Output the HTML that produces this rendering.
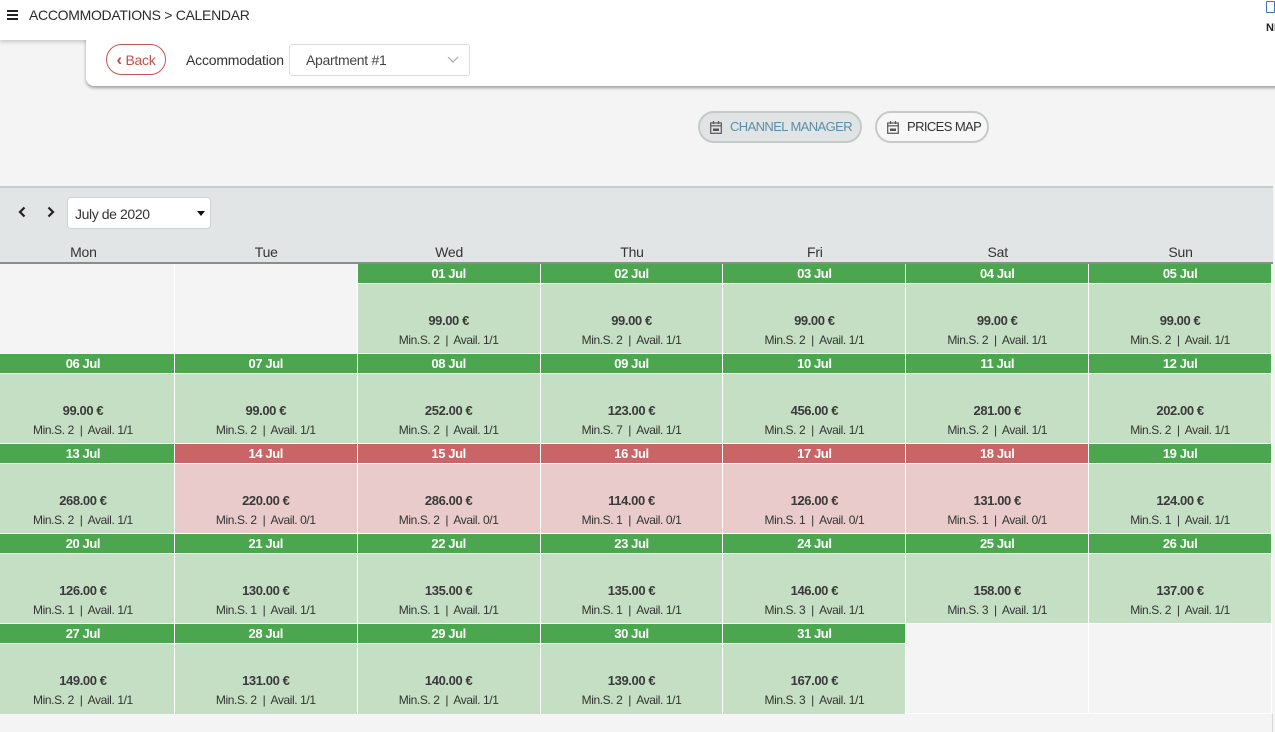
<!DOCTYPE html>
<html><head><meta charset="utf-8"><style>
*{box-sizing:border-box;margin:0;padding:0}
body{width:1275px;height:732px;overflow:hidden;background:#f4f4f4;font-family:"Liberation Sans",Arial,sans-serif;color:#333;position:relative}
.top{position:absolute;left:0;top:0;width:1275px;height:40px;background:#fff;box-shadow:0 2px 4px rgba(0,0,0,.18)}
.card{position:absolute;left:86px;top:30px;width:1195px;height:56px;background:#fff;border-bottom-left-radius:8px;box-shadow:0 2px 3px rgba(0,0,0,.35)}
.ham{position:absolute;left:7px;top:10px;width:11px}
.ham i{display:block;height:2px;background:#222;margin-bottom:2px}
.crumb{position:absolute;left:29px;top:7px;font-size:14px;color:#2b2b2b;letter-spacing:-.3px}
.back{position:absolute;left:106px;top:44px;width:60px;height:31px;border:1px solid #c85555;border-radius:16px;color:#c0504d;font-size:14px;line-height:29px;text-align:center;letter-spacing:-.3px}
.back b{font-size:17px;position:relative;top:0}
.lbl{position:absolute;left:186px;top:52px;font-size:14px;color:#333;letter-spacing:-.2px}
.sel{position:absolute;left:289px;top:44px;width:181px;height:32px;border:1px solid #ddd;border-radius:3px;font-size:14px;color:#444;padding:7px 0 0 16px;letter-spacing:-.3px}
.sel svg{position:absolute;right:10px;top:11px}
.btn{position:absolute;top:111px;height:32px;border:2px solid #c5c9ca;border-radius:16px;font-size:13px;line-height:28px;padding-left:30px;letter-spacing:-.6px}
.btn svg{position:absolute;left:10px;top:8px}
.b1{left:698px;width:164px;background:#e1e4e5;color:#5b8ea6}
.b2{left:875px;width:114px;background:#f7f7f7;color:#333}
.bar{position:absolute;left:0;top:186px;width:1273px;height:78px;background:#e2e5e6;border-top:2px solid #c8cccd;border-bottom:2px solid #8c8c8c}
.arr{position:absolute;top:206px}
.msel{position:absolute;left:67px;top:197px;width:144px;height:32px;background:#fff;border:1px solid #cfd3d5;border-radius:4px;font-size:14px;padding:8px 0 0 7px;color:#333;letter-spacing:-.4px}
.msel b{position:absolute;right:5px;top:13px;width:0;height:0;border-left:4px solid transparent;border-right:4px solid transparent;border-top:5px solid #111}
.days{position:absolute;left:-8px;top:244px;width:1280px;display:grid;grid-template-columns:repeat(7,1fr);font-size:14px;text-align:center;color:#333;letter-spacing:-.2px}
.grid{position:absolute;left:-8px;top:264px;width:1280px;display:grid;grid-template-columns:repeat(7,1fr);grid-auto-rows:90px;letter-spacing:-.4px}
.c{border-right:1px solid #fff;position:relative;text-align:center}
.c .h{height:20px;border-bottom:1px solid #fff;background:#4ca64f;color:#fff;font-weight:bold;font-size:13px;line-height:19px}
.c .b{height:70px;border-bottom:1px solid #fff;background:#c5dfc4}
.c.r .h{background:#c96566}
.c.r .b{background:#e9cbcb}
.c.e{background:#f4f4f4;border-bottom:1px solid #fff}
.p{font-weight:bold;font-size:13px;color:#3a3a3a;padding-top:29px;line-height:16px}
.m{font-size:12px;color:#333;margin-top:3px;line-height:16px}
.last .b{border-bottom:none}
</style></head><body>
<div class="top"></div>
<div class="card"></div>
<div class="top" style="box-shadow:none;width:86px;height:40px"></div>
<div style="position:absolute;left:86px;top:0;width:1189px;height:40px;background:#fff"></div>
<div class="ham"><i></i><i></i><i></i></div>
<div class="crumb">ACCOMMODATIONS &gt; CALENDAR</div>
<div style="position:absolute;left:1266px;top:1px;width:9px;height:12px;border:1.5px solid #3b78b5;border-radius:1px"></div>
<div style="position:absolute;left:1266px;top:22px;font-size:11px;font-weight:bold;color:#222">NI</div>
<div class="back"><b>&#8249;</b> Back</div>
<div class="lbl">Accommodation</div>
<div class="sel">Apartment #1<svg width="12" height="8" viewBox="0 0 12 8"><path d="M1 1l5 5 5-5" fill="none" stroke="#aaa" stroke-width="1.2"/></svg></div>
<div class="btn b1"><svg width="12" height="13" viewBox="0 0 12 13"><rect x="0.7" y="2" width="10.6" height="10.3" fill="none" stroke="#555" stroke-width="1.2"/><line x1="0.7" y1="4.8" x2="11.3" y2="4.8" stroke="#555" stroke-width="1.2"/><line x1="3.5" y1="0" x2="3.5" y2="3" stroke="#555" stroke-width="1.2"/><line x1="8.5" y1="0" x2="8.5" y2="3" stroke="#555" stroke-width="1.2"/><rect x="3" y="7.5" width="6" height="2.5" fill="#555"/></svg>CHANNEL MANAGER</div>
<div class="btn b2"><svg width="12" height="13" viewBox="0 0 12 13"><rect x="0.7" y="2" width="10.6" height="10.3" fill="none" stroke="#555" stroke-width="1.2"/><line x1="0.7" y1="4.8" x2="11.3" y2="4.8" stroke="#555" stroke-width="1.2"/><line x1="3.5" y1="0" x2="3.5" y2="3" stroke="#555" stroke-width="1.2"/><line x1="8.5" y1="0" x2="8.5" y2="3" stroke="#555" stroke-width="1.2"/><rect x="3" y="7.5" width="6" height="2.5" fill="#555"/></svg>PRICES MAP</div>
<div class="bar"></div>
<svg class="arr" style="left:18px" width="8" height="12" viewBox="0 0 8 12"><path d="M6.5 1.5L2 6l4.5 4.5" fill="none" stroke="#222" stroke-width="2.2"/></svg>
<svg class="arr" style="left:47px" width="8" height="12" viewBox="0 0 8 12"><path d="M1.5 1.5L6 6l-4.5 4.5" fill="none" stroke="#222" stroke-width="2.2"/></svg>
<div class="msel">July de 2020<b></b></div>
<div class="days"><div>Mon</div><div>Tue</div><div>Wed</div><div>Thu</div><div>Fri</div><div>Sat</div><div>Sun</div></div>
<div class="grid">
<div class="c e"></div><div class="c e"></div>
<div class="c"><div class="h">01 Jul</div><div class="b"><div class="p">99.00 €</div><div class="m">Min.S. 2 &nbsp;|&nbsp; Avail. 1/1</div></div></div>
<div class="c"><div class="h">02 Jul</div><div class="b"><div class="p">99.00 €</div><div class="m">Min.S. 2 &nbsp;|&nbsp; Avail. 1/1</div></div></div>
<div class="c"><div class="h">03 Jul</div><div class="b"><div class="p">99.00 €</div><div class="m">Min.S. 2 &nbsp;|&nbsp; Avail. 1/1</div></div></div>
<div class="c"><div class="h">04 Jul</div><div class="b"><div class="p">99.00 €</div><div class="m">Min.S. 2 &nbsp;|&nbsp; Avail. 1/1</div></div></div>
<div class="c"><div class="h">05 Jul</div><div class="b"><div class="p">99.00 €</div><div class="m">Min.S. 2 &nbsp;|&nbsp; Avail. 1/1</div></div></div>

<div class="c"><div class="h">06 Jul</div><div class="b"><div class="p">99.00 €</div><div class="m">Min.S. 2 &nbsp;|&nbsp; Avail. 1/1</div></div></div>
<div class="c"><div class="h">07 Jul</div><div class="b"><div class="p">99.00 €</div><div class="m">Min.S. 2 &nbsp;|&nbsp; Avail. 1/1</div></div></div>
<div class="c"><div class="h">08 Jul</div><div class="b"><div class="p">252.00 €</div><div class="m">Min.S. 2 &nbsp;|&nbsp; Avail. 1/1</div></div></div>
<div class="c"><div class="h">09 Jul</div><div class="b"><div class="p">123.00 €</div><div class="m">Min.S. 7 &nbsp;|&nbsp; Avail. 1/1</div></div></div>
<div class="c"><div class="h">10 Jul</div><div class="b"><div class="p">456.00 €</div><div class="m">Min.S. 2 &nbsp;|&nbsp; Avail. 1/1</div></div></div>
<div class="c"><div class="h">11 Jul</div><div class="b"><div class="p">281.00 €</div><div class="m">Min.S. 2 &nbsp;|&nbsp; Avail. 1/1</div></div></div>
<div class="c"><div class="h">12 Jul</div><div class="b"><div class="p">202.00 €</div><div class="m">Min.S. 2 &nbsp;|&nbsp; Avail. 1/1</div></div></div>

<div class="c"><div class="h">13 Jul</div><div class="b"><div class="p">268.00 €</div><div class="m">Min.S. 2 &nbsp;|&nbsp; Avail. 1/1</div></div></div>
<div class="c r"><div class="h">14 Jul</div><div class="b"><div class="p">220.00 €</div><div class="m">Min.S. 2 &nbsp;|&nbsp; Avail. 0/1</div></div></div>
<div class="c r"><div class="h">15 Jul</div><div class="b"><div class="p">286.00 €</div><div class="m">Min.S. 2 &nbsp;|&nbsp; Avail. 0/1</div></div></div>
<div class="c r"><div class="h">16 Jul</div><div class="b"><div class="p">114.00 €</div><div class="m">Min.S. 1 &nbsp;|&nbsp; Avail. 0/1</div></div></div>
<div class="c r"><div class="h">17 Jul</div><div class="b"><div class="p">126.00 €</div><div class="m">Min.S. 1 &nbsp;|&nbsp; Avail. 0/1</div></div></div>
<div class="c r"><div class="h">18 Jul</div><div class="b"><div class="p">131.00 €</div><div class="m">Min.S. 1 &nbsp;|&nbsp; Avail. 0/1</div></div></div>
<div class="c"><div class="h">19 Jul</div><div class="b"><div class="p">124.00 €</div><div class="m">Min.S. 1 &nbsp;|&nbsp; Avail. 1/1</div></div></div>

<div class="c"><div class="h">20 Jul</div><div class="b"><div class="p">126.00 €</div><div class="m">Min.S. 1 &nbsp;|&nbsp; Avail. 1/1</div></div></div>
<div class="c"><div class="h">21 Jul</div><div class="b"><div class="p">130.00 €</div><div class="m">Min.S. 1 &nbsp;|&nbsp; Avail. 1/1</div></div></div>
<div class="c"><div class="h">22 Jul</div><div class="b"><div class="p">135.00 €</div><div class="m">Min.S. 1 &nbsp;|&nbsp; Avail. 1/1</div></div></div>
<div class="c"><div class="h">23 Jul</div><div class="b"><div class="p">135.00 €</div><div class="m">Min.S. 1 &nbsp;|&nbsp; Avail. 1/1</div></div></div>
<div class="c"><div class="h">24 Jul</div><div class="b"><div class="p">146.00 €</div><div class="m">Min.S. 3 &nbsp;|&nbsp; Avail. 1/1</div></div></div>
<div class="c"><div class="h">25 Jul</div><div class="b"><div class="p">158.00 €</div><div class="m">Min.S. 3 &nbsp;|&nbsp; Avail. 1/1</div></div></div>
<div class="c"><div class="h">26 Jul</div><div class="b"><div class="p">137.00 €</div><div class="m">Min.S. 2 &nbsp;|&nbsp; Avail. 1/1</div></div></div>

<div class="c last"><div class="h">27 Jul</div><div class="b"><div class="p">149.00 €</div><div class="m">Min.S. 2 &nbsp;|&nbsp; Avail. 1/1</div></div></div>
<div class="c last"><div class="h">28 Jul</div><div class="b"><div class="p">131.00 €</div><div class="m">Min.S. 2 &nbsp;|&nbsp; Avail. 1/1</div></div></div>
<div class="c last"><div class="h">29 Jul</div><div class="b"><div class="p">140.00 €</div><div class="m">Min.S. 2 &nbsp;|&nbsp; Avail. 1/1</div></div></div>
<div class="c last"><div class="h">30 Jul</div><div class="b"><div class="p">139.00 €</div><div class="m">Min.S. 2 &nbsp;|&nbsp; Avail. 1/1</div></div></div>
<div class="c last"><div class="h">31 Jul</div><div class="b"><div class="p">167.00 €</div><div class="m">Min.S. 3 &nbsp;|&nbsp; Avail. 1/1</div></div></div>
<div class="c e" style="height:90px"></div><div class="c e" style="height:90px"></div>
</div>
<div style="position:absolute;left:1272px;top:714px;width:1px;height:18px;background:#d8d8d8"></div>
</body></html>
